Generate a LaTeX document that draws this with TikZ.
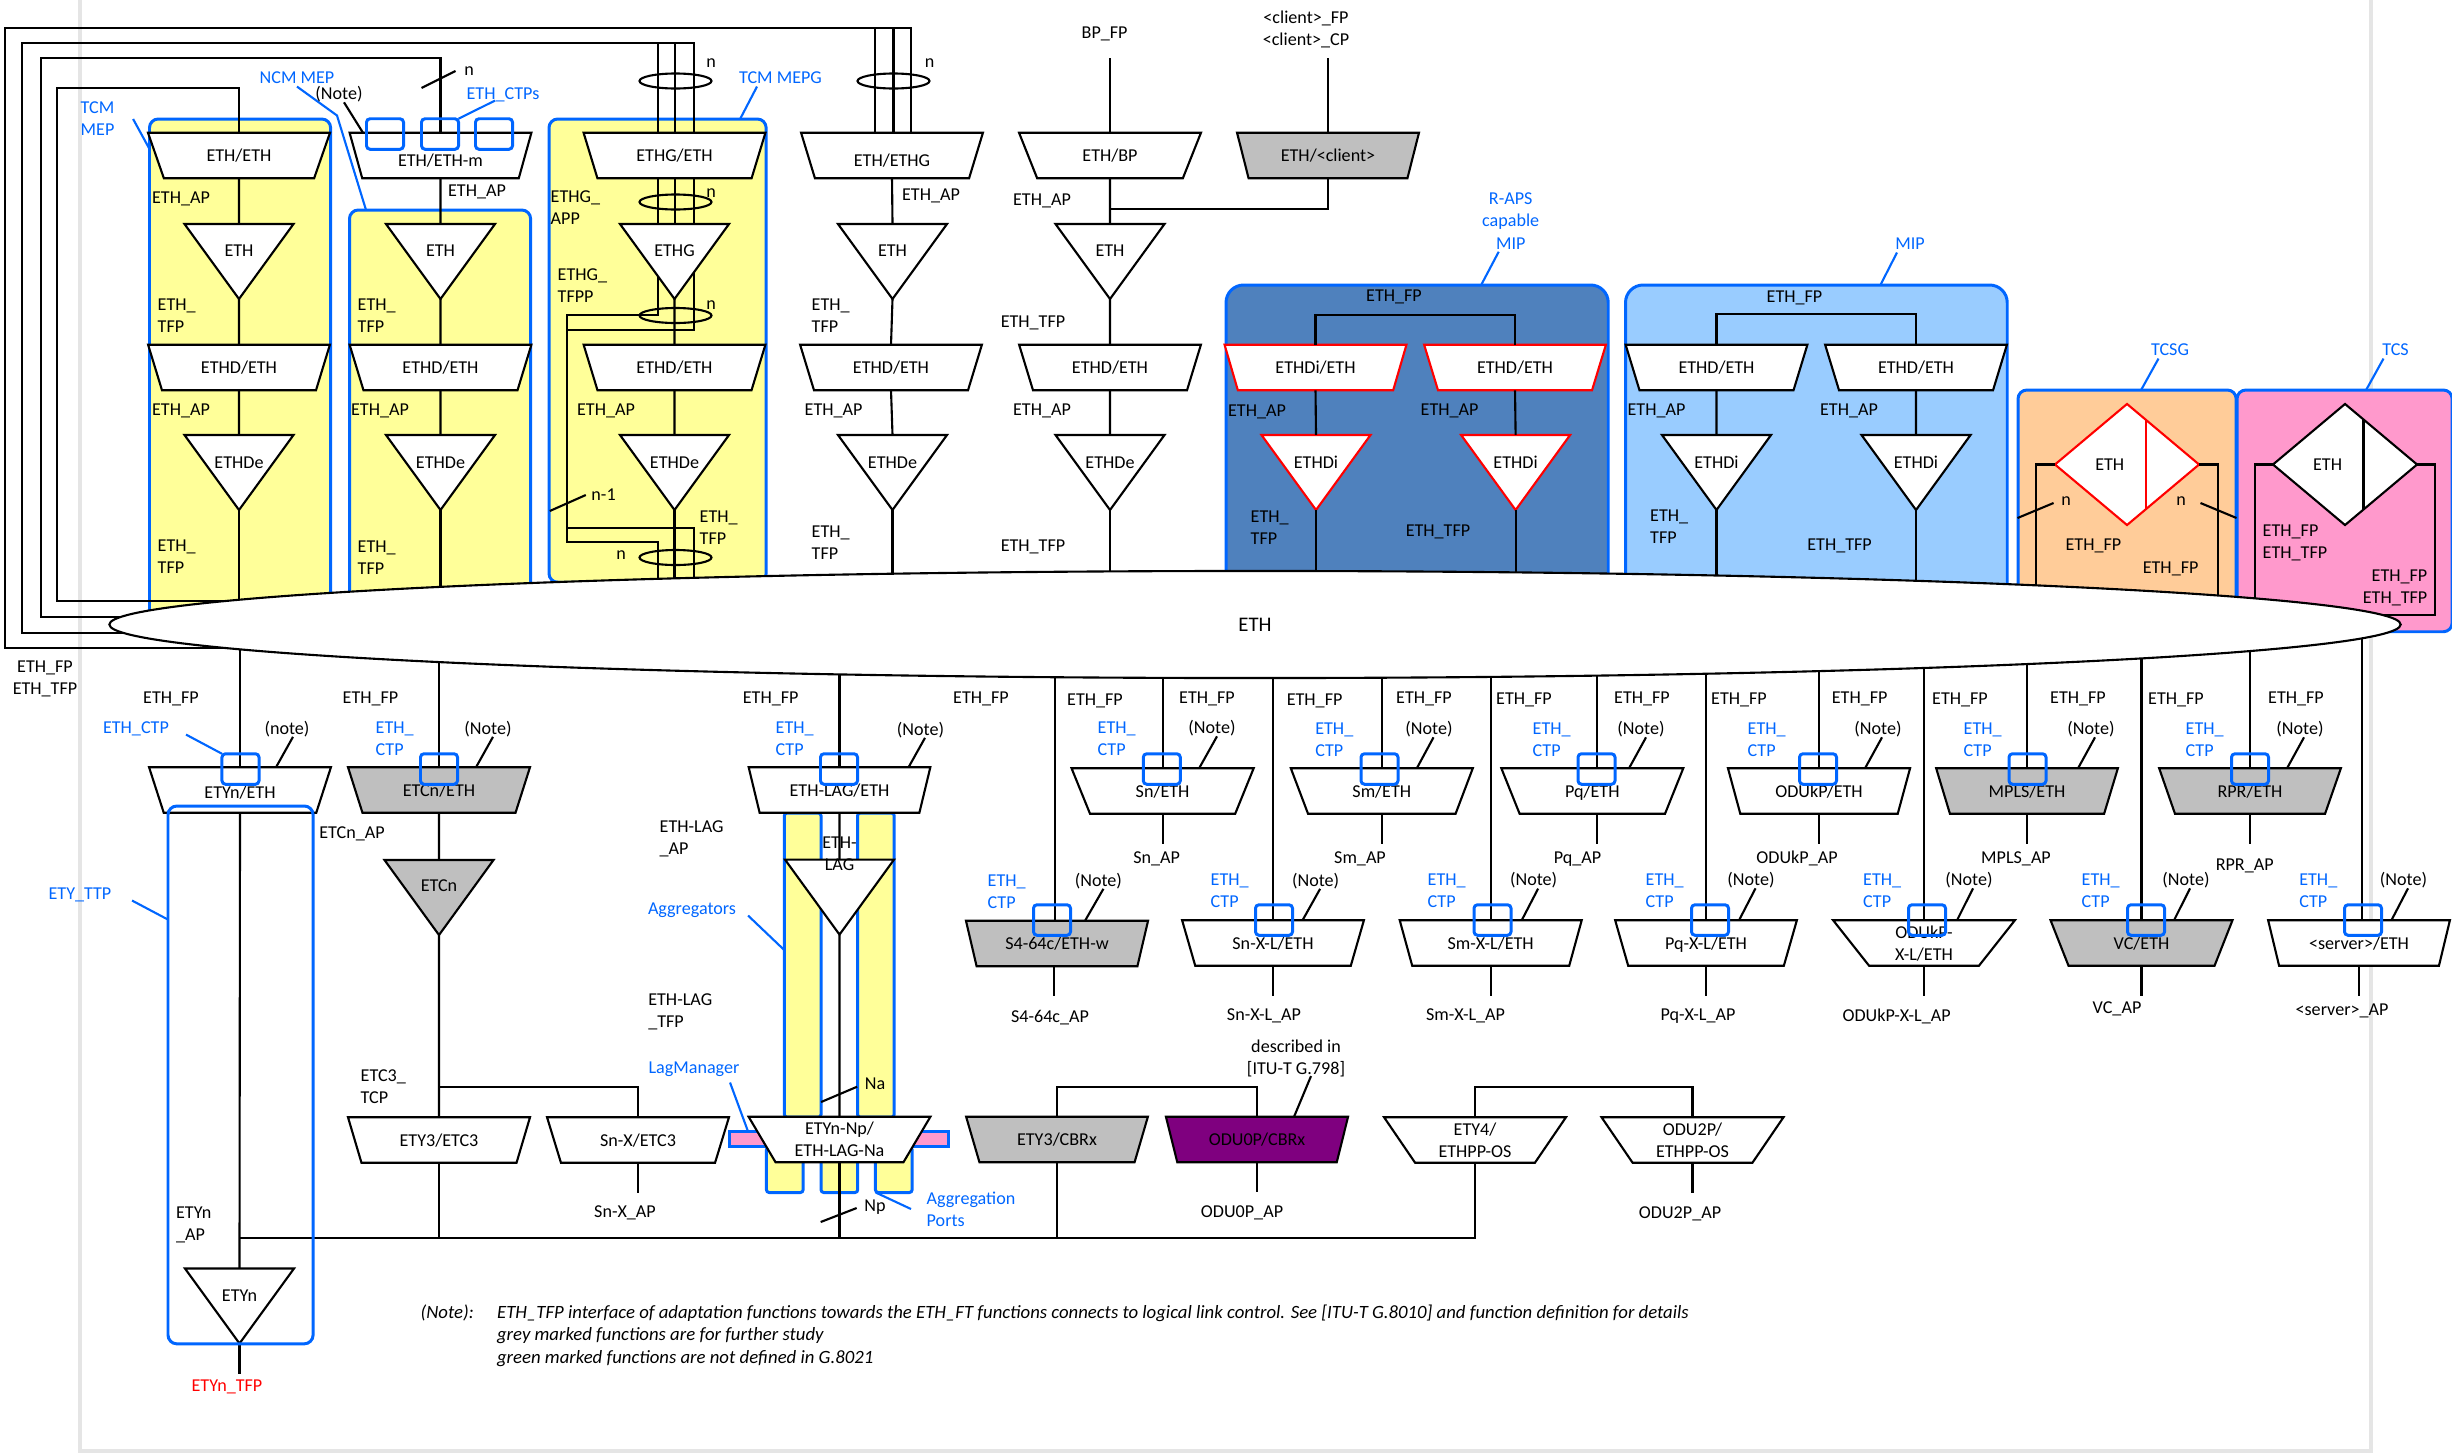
\documentclass[tikz,border=0pt]{standalone}
\usepackage{fontspec}
\setmainfont{Carlito}
\usepackage{xcolor}
\usetikzlibrary{shapes.geometric}
\definecolor{mepblue}{HTML}{0066FF}
\definecolor{mepyellow}{HTML}{FFFF99}
\definecolor{rapsblue}{HTML}{4F81BD}
\definecolor{mipblue}{HTML}{99CCFF}
\definecolor{tcsgorange}{HTML}{FFCC99}
\definecolor{tcspink}{HTML}{FF99CC}
\definecolor{oduviolet}{HTML}{7F007F}
\definecolor{futuregrey}{HTML}{BFBFBF}
\newcommand{\lblfont}{\fontsize{5.15pt}{6.3pt}\selectfont}

\begin{document}
\begin{tikzpicture}[
    x=0.01cm, y=-0.01cm,
    adaptfn/.style={draw=black, fill=white, line width=0.6pt, trapezium, shape border rotate=180, trapezium stretches=true, trapezium left angle=61.4, trapezium right angle=61.4, minimum width=1.82cm, minimum height=0.455cm, inner sep=0pt, outer sep=0pt, font=\lblfont, align=center, text depth=-0.8pt},
    trailfn/.style={draw=black, fill=white, line width=0.6pt, isosceles triangle, shape border rotate=-90, isosceles triangle stretches=true, minimum width=1.09cm, minimum height=0.75cm, inner sep=0pt, outer sep=0pt, anchor=apex},
    tcsfn/.style={draw=black, fill=white, line width=0.6pt, diamond, minimum width=1.44cm, minimum height=1.21cm, inner sep=0pt, outer sep=0pt},
    mepbox/.style={draw=mepblue, fill=mepyellow, line width=0.85pt, rounded corners=2.5pt, inner sep=0pt, outer sep=0pt, anchor=north west},
    mipbox/.style={draw=mepblue, line width=0.85pt, rounded corners=5pt, inner sep=0pt, outer sep=0pt, anchor=north west},
    lagbox/.style={draw=mepblue, fill=mepyellow, line width=0.85pt, rounded corners=0.8pt, inner sep=0pt, outer sep=0pt, anchor=north west},
    ctpbox/.style={draw=mepblue, line width=0.85pt, rounded corners=1pt, minimum width=0.37cm, minimum height=0.305cm, inner sep=0pt, outer sep=0pt},
    ring/.style={draw=black, line width=0.6pt, ellipse, minimum width=0.72cm, minimum height=0.15cm, inner sep=0pt},
    wire/.style={draw=black, line width=0.6pt},
    leader/.style={draw=mepblue, line width=0.6pt},
    lbl/.style={font=\lblfont, inner sep=0pt, align=center, text depth=0pt},
    lblw/.style={font=\lblfont, inner sep=0pt, align=left, anchor=west, text depth=0pt},
    blbl/.style={lbl, text=mepblue},
    blblw/.style={lblw, text=mepblue}
]
    \useasboundingbox (0,0) rectangle (2452,1454);

    % Page edge
    \draw[gray!20, line width=0.9pt] (80,0) -- (80,1451) -- (2371,1451) -- (2371,0);

    \coordinate (layer) at (1255,624.5);
    \coordinate (apbus) at (240,1238);

    % Coloured groups
    \node[mepbox, minimum width=1.81cm, minimum height=5cm] (tcmbox) at (149.5,119) {};
    \node[mepbox, minimum width=1.81cm, minimum height=4cm] (ncmbox) at (349.5,210) {};
    \node[mepbox, minimum width=2.17cm, minimum height=4.63cm] (mepgbox) at (549,119) {};
    \node[mipbox, fill=rapsblue, minimum width=3.82cm, minimum height=3.2cm] (rapsbox) at (1226,285) {};
    \node[mipbox, fill=mipblue, minimum width=3.815cm, minimum height=3.2cm] (mipbox) at (1625.5,285) {};
    \node[mepbox, fill=tcsgorange, minimum width=2.18cm, minimum height=2.3cm] (tcsgbox) at (2018,390) {};
    \node[mepbox, fill=tcspink, minimum width=2.15cm, minimum height=2.416cm] (tcsbox) at (2237,390) {};

    % Aggregators
    \node[lagbox, minimum width=0.367cm, minimum height=3.04cm] (aggl) at (784.3,813) {};
    \node[lagbox, minimum width=0.367cm, minimum height=3.04cm] (aggr) at (857.5,813) {};
    \node[draw=mepblue, fill=tcspink, line width=0.85pt, minimum width=2.186cm, minimum height=0.155cm, inner sep=0pt, outer sep=0pt] (lagmgr) at (839.3,1139) {};
    \node[lagbox, minimum width=0.367cm, minimum height=0.455cm] (portl) at (766.4,1147) {};
    \node[lagbox, minimum width=0.367cm, minimum height=0.455cm] (portm) at (821,1147) {};
    \node[lagbox, minimum width=0.367cm, minimum height=0.455cm] (portr) at (875.4,1147) {};

    % Upper functions
    \node[adaptfn] (tcmad) at (239,155.5) {ETH/ETH};
    \node[adaptfn] (ncmad) at (440.5,155.5) {\raisebox{-1.2pt}[\height][0pt]{ETH/ETH-m}};
    \node[adaptfn] (mepgad) at (674.5,155.5) {ETHG/ETH};
    \node[adaptfn] (grpad) at (892,155.5) {\raisebox{-1.2pt}[\height][0pt]{ETH/ETHG}};
    \node[adaptfn] (bpad) at (1110,155.5) {ETH/BP};
    \node[adaptfn, fill=futuregrey] (clientad) at (1328,155.5) {ETH/<client>};

    \node[trailfn] (tcmtr) at (239,299) {};
    \node[trailfn] (ncmtr) at (440.5,299) {};
    \node[trailfn] (mepgtr) at (674.5,299) {};
    \node[trailfn] (grptr) at (892.5,299) {};
    \node[trailfn] (bptr) at (1110,299) {};

    \node[adaptfn] (tcmdad) at (239,367.5) {ETHD/ETH};
    \node[adaptfn] (ncmdad) at (440.5,367.5) {ETHD/ETH};
    \node[adaptfn] (mepgdad) at (674.5,367.5) {ETHD/ETH};
    \node[adaptfn] (grpdad) at (891,367.5) {ETHD/ETH};
    \node[adaptfn] (bpdad) at (1110,367.5) {ETHD/ETH};
    \node[adaptfn, draw=red] (rapsl) at (1315.5,367.5) {ETHDi/ETH};
    \node[adaptfn, draw=red] (rapsr) at (1515,367.5) {ETHD/ETH};
    \node[adaptfn] (mipl) at (1716.5,367.5) {ETHD/ETH};
    \node[adaptfn] (mipr) at (1916,367.5) {ETHD/ETH};

    \node[trailfn] (tcmdtr) at (239,510) {};
    \node[trailfn] (ncmdtr) at (440.5,510) {};
    \node[trailfn] (mepgdtr) at (674.5,510) {};
    \node[trailfn] (grpdtr) at (892.5,510) {};
    \node[trailfn] (bpdtr) at (1110,510) {};
    \node[trailfn, draw=red] (rapsltr) at (1316,510) {};
    \node[trailfn, draw=red] (rapsrtr) at (1515.6,510) {};
    \node[trailfn] (mipltr) at (1716.5,510) {};
    \node[trailfn] (miprtr) at (1916,510) {};

    \node[tcsfn, draw=red] (tcsgd) at (2127,464.5) {};
    \node[tcsfn] (tcsd) at (2345,464.5) {};
    \draw[red, line width=0.6pt] (2145.6,419.5) -- (2145.6,510);
    \draw[wire] (2363.5,419.5) -- (2363.5,510);

    % Loops
    \coordinate (loopa) at (57,88);
    \coordinate (loopaend) at (300,601);
    \coordinate (loopb) at (41,58);
    \coordinate (loopbend) at (300,617);
    \coordinate (loopc) at (22.4,43);
    \coordinate (loopcend) at (300,633);
    \coordinate (loopd) at (4.6,28);
    \coordinate (loopdend) at (300,648);
    \draw[wire] (tcmad.north) |- (loopa) |- (loopaend);
    \draw[wire] (ncmad.north) |- (loopb) |- (loopbend);
    \draw[wire] ([xshift=0.195cm]mepgad.north) |- (loopc) |- (loopcend);
    \draw[wire] ([xshift=0.19cm]grpad.north) |- (loopd) |- (loopdend);
    \draw[wire] ([xshift=-0.165cm]mepgad.north) -- ++(0,-90);
    \draw[wire] ([xshift=0.005cm]mepgad.north) -- ++(0,-90);
    \draw[wire] ([xshift=-0.17cm]grpad.north) -- ++(0,-105);
    \draw[wire] ([xshift=0.015cm]grpad.north) -- ++(0,-105);

    % Upper connections
    \draw[wire] (tcmad.south) -- (tcmtr.north);
    \draw[wire] (tcmtr.apex) -- (tcmdad.north);
    \draw[wire] (tcmdad.south) -- (tcmdtr.north);
    \draw[wire] (tcmdtr.apex) -- (tcmdtr.apex |- layer);
    \draw[wire] (ncmad.south) -- (ncmtr.north);
    \draw[wire] (ncmtr.apex) -- (ncmdad.north);
    \draw[wire] (ncmdad.south) -- (ncmdtr.north);
    \draw[wire] (ncmdtr.apex) -- (ncmdtr.apex |- layer);
    \draw[wire] ([xshift=-0.165cm]mepgad.south) -- ++(0,46);
    \draw[wire] ([xshift=0.005cm]mepgad.south) -- ++(0,46);
    \draw[wire] ([xshift=0.195cm]mepgad.south) -- ++(0,46);
    \draw[wire] (mepgtr.apex) -- (mepgdad.north);
    \draw[wire] (mepgdad.south) -- (mepgdtr.north);
    \draw[wire] (mepgdtr.apex) -- (mepgdtr.apex |- layer);
    \coordinate (mepgla) at (658,277);
    \coordinate (mepglb) at (567,315);
    \coordinate (mepglc) at (658,542);
    \coordinate (mepgra) at (694,272.5);
    \coordinate (mepgrb) at (567,330);
    \coordinate (mepgrc) at (694,528);
    \draw[wire] (mepgla) |- (mepglb) |- (mepglc) -- (mepglc |- layer);
    \draw[wire] (mepgra) |- (mepgrb) |- (mepgrc) -- (mepgrc |- layer);
    \draw[wire] (grpad.south) -- (grptr.north);
    \draw[wire] (grptr.apex) -- (grpdad.north);
    \draw[wire] (grpdad.south) -- (grpdtr.north);
    \draw[wire] (grpdtr.apex) -- (grpdtr.apex |- layer);
    \draw[wire] (bpad.north) -- ++(0,-75);
    \draw[wire] (clientad.north) -- ++(0,-75);
    \draw[wire] (bpad.south) -- (bptr.north);
    \draw[wire] (clientad.south) |- ([yshift=-0.306cm]bpad.south);
    \draw[wire] (bptr.apex) -- (bpdad.north);
    \draw[wire] (bpdad.south) -- (bpdtr.north);
    \draw[wire] (bpdtr.apex) -- (bpdtr.apex |- layer);
    \draw[wire] (rapsl.north) |- ([yshift=0.295cm]rapsr.north) -- (rapsr.north);
    \draw[wire] (rapsl.south) -- (rapsltr.north);
    \draw[wire] (rapsr.south) -- (rapsrtr.north);
    \draw[wire] (rapsltr.apex) -- (rapsltr.apex |- layer);
    \draw[wire] (rapsrtr.apex) -- (rapsrtr.apex |- layer);
    \draw[wire] (mipl.north) |- ([yshift=0.305cm]mipr.north) -- (mipr.north);
    \draw[wire] (mipl.south) -- (mipltr.north);
    \draw[wire] (mipr.south) -- (miprtr.north);
    \draw[wire] (mipltr.apex) -- (mipltr.apex |- layer);
    \draw[wire] (miprtr.apex) -- (miprtr.apex |- layer);
    \draw[wire] (tcsgd.west) -- ++(-19.4,0) -- ++(0,160);
    \draw[wire] (tcsgd.east) -- ++(19,0) -- ++(0,160);
    \draw[wire] (tcsd.west) -- ++(-18,0) -- ++(0,140);
    \coordinate (tcsend) at (2380,615);
    \draw[wire] (tcsd.east) -- ++(18,0) |- (tcsend);

    % Rings
    \node[ring] (ringa) at (675.5,81) {};
    \node[ring] (ringb) at (675.5,202) {};
    \node[ring] (ringc) at (675.5,315.5) {};
    \node[ring] (ringd) at (675.5,557.5) {};
    \node[ring] (ringe) at (893.5,81) {};

    % Lower functions, first row
    \node[adaptfn] (etyad) at (240,790) {\raisebox{-0.6pt}[\height][0pt]{ETYn/ETH}};
    \node[adaptfn, fill=futuregrey] (etcad) at (439,790) {ETCn/ETH};
    \node[adaptfn] (lagad) at (839.5,790) {ETH-LAG/ETH};
    \node[adaptfn] (snad) at (1162.6,791) {Sn/ETH};
    \node[adaptfn] (smad) at (1381.8,791) {Sm/ETH};
    \node[adaptfn] (pqad) at (1592.3,791) {Pq/ETH};
    \node[adaptfn] (odukad) at (1819,791) {ODUkP/ETH};
    \node[adaptfn, fill=futuregrey] (mplsad) at (2027,791) {MPLS/ETH};
    \node[adaptfn, fill=futuregrey] (rprad) at (2250,791) {RPR/ETH};

    % Lower functions, second row
    \node[adaptfn, fill=futuregrey] (s4ad) at (1057,943.5) {S4-64c/ETH-w};
    \node[adaptfn] (snxlad) at (1273,943) {Sn-X-L/ETH};
    \node[adaptfn] (smxlad) at (1490.7,943) {Sm-X-L/ETH};
    \node[adaptfn] (pqxlad) at (1706,943) {Pq-X-L/ETH};
    \node[adaptfn] (odukxlad) at (1924,943) {ODUkP-\\X-L/ETH};
    \node[adaptfn, fill=futuregrey] (vcad) at (2141.5,943) {VC/ETH};
    \node[adaptfn] (serverad) at (2359,943) {<server>/ETH};

    \node[trailfn, fill=futuregrey] (etctr) at (439,935) {};
    \node[trailfn] (lagtr) at (839.5,934.6) {};
    \node[trailfn] (etytr) at (239.5,1343.5) {};

    % Lower functions, third row
    \node[adaptfn] (etc3ad) at (439,1140) {ETY3/ETC3};
    \node[adaptfn] (snxad) at (638,1140) {Sn-X/ETC3};
    \node[adaptfn] (npad) at (839.5,1139.5) {ETYn-Np/\\ETH-LAG-Na};
    \node[adaptfn, fill=futuregrey] (cbrad) at (1057,1139.5) {ETY3/CBRx};
    \node[adaptfn, fill=oduviolet] (oduad) at (1257,1139.5) {ODU0P/CBRx};
    \node[adaptfn] (ety4ad) at (1475,1140) {ETY4/\\ETHPP-OS};
    \node[adaptfn] (odu2ad) at (1692.5,1140) {ODU2P/\\ETHPP-OS};

    % Lower connections
    \draw[wire] (etyad.north) -- (etyad.north |- layer);
    \draw[wire] (etyad.south) -- (etytr.north);
    \draw[wire] (etytr.apex) -- ++(0,30.5);
    \draw[wire] (etcad.north) -- (etcad.north |- layer);
    \draw[wire] (etcad.south) -- (etctr.north);
    \draw[wire] (etctr.apex) -- (etc3ad.north);
    \draw[wire] (snxad.north) |- ([yshift=0.304cm]etc3ad.north);
    \draw[wire] (etc3ad.south) -- (etc3ad.south |- apbus);
    \draw[wire] (snxad.south) -- ++(0,30);
    \draw[wire] (lagad.north) -- (lagad.north |- layer);
    \draw[wire] (lagad.south) -- (lagtr.north);
    \draw[wire] (lagtr.apex) -- (npad.north);
    \draw[wire] (npad.south) -- (npad.south |- apbus);
    \draw[wire] (cbrad.north) -- ++(0,-29.5) -| (oduad.north);
    \draw[wire] (cbrad.south) -- (cbrad.south |- apbus);
    \draw[wire] (oduad.south) -- ++(0,30);
    \draw[wire] (ety4ad.north) -- ++(0,-30) -| (odu2ad.north);
    \draw[wire] (odu2ad.south) -- ++(0,30);
    \draw[wire] (apbus) -| (ety4ad.south);
    \draw[wire] (snad.north) -- (snad.north |- layer);
    \draw[wire] (snad.south) -- ++(0,30);
    \draw[wire] (smad.north) -- (smad.north |- layer);
    \draw[wire] (smad.south) -- ++(0,30);
    \draw[wire] ([xshift=0.044cm]pqad.north) -- ([xshift=0.044cm]pqad.north |- layer);
    \draw[wire] ([xshift=0.044cm]pqad.south) -- ++(0,30);
    \draw[wire] (odukad.north) -- (odukad.north |- layer);
    \draw[wire] (odukad.south) -- ++(0,30);
    \draw[wire] (mplsad.north) -- (mplsad.north |- layer);
    \draw[wire] (mplsad.south) -- ++(0,30);
    \draw[wire] (rprad.north) -- (rprad.north |- layer);
    \draw[wire] (rprad.south) -- ++(0,30);
    \draw[wire] ([xshift=-0.02cm]s4ad.north) -- ([xshift=-0.02cm]s4ad.north |- layer);
    \draw[wire] ([xshift=-0.03cm]s4ad.south) -- ++(0,30);
    \draw[wire] (snxlad.north) -- (snxlad.north |- layer);
    \draw[wire] (snxlad.south) -- ++(0,30);
    \draw[wire] (smxlad.north) -- (smxlad.north |- layer);
    \draw[wire] (smxlad.south) -- ++(0,30);
    \draw[wire] (pqxlad.north) -- (pqxlad.north |- layer);
    \draw[wire] (pqxlad.south) -- ++(0,30);
    \draw[wire] (odukxlad.north) -- (odukxlad.north |- layer);
    \draw[wire] (odukxlad.south) -- ++(0,30);
    \draw[wire] (vcad.north) -- (vcad.north |- layer);
    \draw[wire] (vcad.south) -- ++(0,30);
    \draw[wire] ([xshift=0.03cm]serverad.north) -- ([xshift=0.03cm]serverad.north |- layer);
    \draw[wire] (serverad.south) -- ++(0,30);

    % Server layer
    \node[draw=black, fill=white, line width=0.6pt, ellipse, minimum width=22.9cm, minimum height=1.07cm, inner sep=0pt, font=\fontsize{5.9pt}{7pt}\selectfont] (ethplane) at (layer) {ETH};

    % Names of the trail functions
    \node[lbl] (tcmtrtxt) at ([yshift=0.48cm]tcmtr.apex) {ETH};
    \node[lbl] (ncmtrtxt) at ([yshift=0.48cm]ncmtr.apex) {ETH};
    \node[lbl] (mepgtrtxt) at ([yshift=0.48cm]mepgtr.apex) {ETHG};
    \node[lbl] (grptrtxt) at ([yshift=0.48cm]grptr.apex) {ETH};
    \node[lbl] (bptrtxt) at ([yshift=0.48cm]bptr.apex) {ETH};
    \node[lbl] (tcmdtrtxt) at ([yshift=0.47cm]tcmdtr.apex) {ETHDe};
    \node[lbl] (ncmdtrtxt) at ([yshift=0.47cm]ncmdtr.apex) {ETHDe};
    \node[lbl] (mepgdtrtxt) at ([yshift=0.47cm]mepgdtr.apex) {ETHDe};
    \node[lbl] (grpdtrtxt) at ([yshift=0.47cm]grpdtr.apex) {ETHDe};
    \node[lbl] (bpdtrtxt) at ([yshift=0.47cm]bpdtr.apex) {ETHDe};
    \node[lbl] (rapsltrtxt) at ([yshift=0.48cm]rapsltr.apex) {ETHDi};
    \node[lbl] (rapsrtrtxt) at ([yshift=0.48cm]rapsrtr.apex) {ETHDi};
    \node[lbl] (mipltrtxt) at ([yshift=0.48cm]mipltr.apex) {ETHDi};
    \node[lbl] (miprtrtxt) at ([yshift=0.48cm]miprtr.apex) {ETHDi};
    \node[lbl] (etctrtxt) at ([yshift=0.49cm]etctr.apex) {ETCn};
    \node[lbl] (lagtrtxt) at ([yshift=0.81cm]lagtr.apex) {ETH-\\LAG};
    \node[lbl] (etytrtxt) at ([yshift=0.475cm]etytr.apex) {ETYn};

    % Connection points
    \node[ctpbox] (ctpa) at (385,134) {};
    \node[ctpbox] (ctpb) at (440,134) {};
    \node[ctpbox] (ctpc) at (494,134) {};
    \node[ctpbox] (ctpety) at (240.5,769) {};
    \node[ctpbox] (ctpetc) at (439,769) {};
    \node[ctpbox] (ctplag) at (839,769) {};
    \node[ctpbox] (ctpsn) at (1161.8,769) {};
    \node[ctpbox] (ctpsm) at (1379.5,769) {};
    \node[ctpbox] (ctppq) at (1596.5,769) {};
    \node[ctpbox] (ctpoduk) at (1818,769) {};
    \node[ctpbox] (ctpmpls) at (2027.5,769) {};
    \node[ctpbox] (ctprpr) at (2250,769) {};
    \node[ctpbox] (ctps4) at (1052,920) {};
    \node[ctpbox] (ctpsnxl) at (1274,920) {};
    \node[ctpbox] (ctpsmxl) at (1492.5,920) {};
    \node[ctpbox] (ctppqxl) at (1710,920) {};
    \node[ctpbox] (ctpodukxl) at (1927,920) {};
    \node[ctpbox] (ctpvc) at (2146,920) {};
    \node[ctpbox] (ctpserver) at (2363,920) {};
    \node[draw=mepblue, line width=0.85pt, rounded corners=2.5pt, minimum width=1.45cm, minimum height=5.375cm, inner sep=0pt, outer sep=0pt, anchor=north west] (ttpbox) at (168,806) {};

    % Group names
    \node[blblw] (tcmtxt) at (80,119) {TCM\\MEP};
    \node[blbl] (ncmtxt) at (297,78) {NCM MEP};
    \node[blbl] (mepgtxt) at (780.5,78) {TCM MEPG};
    \node[blbl] (ctpstxt) at (503,94) {ETH\_CTPs};
    \node[blbl] (rapstxt) at (1510.7,221) {R-APS\\capable\\MIP};
    \node[blbl] (miptxt) at (1910,244) {MIP};
    \node[blbl] (tcsgtxt) at (2170,350) {TCSG};
    \node[blbl] (tcstxt) at (2395.5,350) {TCS};
    \node[blbl] (ctpetytxt) at (136,728) {ETH\_CTP};
    \node[blbl] (ttptxt) at (80,894) {ETY\_TTP};
    \node[blbl] (aggtxt) at (692,909) {Aggregators};
    \node[blbl] (lagmgrtxt) at (694,1068) {LagManager};
    \node[blblw] (porttxt) at (926,1209) {Aggregation\\Ports};

    \coordinate (ncmbend) at (337,115.5);
    \draw[leader] ([xshift=0.18cm]tcmtxt.east) -- ([yshift=-0.3cm]tcmbox.north west);
    \draw[leader] ([yshift=-0.02cm]ncmtxt.south) -- (ncmbend) -- ([xshift=0.165cm]ncmbox.north west);
    \draw[leader] ([xshift=-0.235cm,yshift=-0.02cm]mepgtxt.south) -- ([xshift=-0.26cm]mepgbox.north east);
    \draw[leader] ([xshift=-0.08cm]ctpstxt.south) -- (ctpb.north east);
    \draw[leader] ([xshift=-0.12cm,yshift=-0.02cm]rapstxt.south) -- ([xshift=0.64cm]rapsbox.north);
    \draw[leader] ([xshift=-0.13cm,yshift=-0.02cm]miptxt.south) -- ([xshift=0.64cm]mipbox.north);
    \draw[leader] ([xshift=-0.115cm,yshift=-0.02cm]tcsgtxt.south) -- ([xshift=0.14cm]tcsgbox.north);
    \draw[leader] ([xshift=-0.12cm,yshift=-0.02cm]tcstxt.south) -- ([xshift=0.215cm]tcsbox.north);
    \draw[leader] ([xshift=0.5cm]ctpetytxt.south) -- (ctpety.north west);
    \draw[leader] ([xshift=0.52cm]ttptxt.south) -- ([yshift=-1.135cm]ttpbox.north west);
    \draw[leader] ([xshift=0.56cm]aggtxt.south) -- ([yshift=-1.37cm]aggl.north west);
    \draw[leader] ([xshift=0.36cm,yshift=-0.08cm]lagmgrtxt.south) -- ([xshift=0.18cm]lagmgr.north west);
    \draw[leader] ([xshift=-0.18cm]portr.south) -- ([xshift=-0.15cm]porttxt.west);

    % Labels of the upper part
    \node[lbl] (nnote) at (339,93) {(Note)};
    \node[lbl] (nm) at (469,71) {n};
    \draw[wire] ([xshift=0.05cm,yshift=-0.02cm]nnote.south) -- ([xshift=-0.775cm]ncmad.north);
    \draw[wire] ([xshift=-0.42cm,yshift=-0.17cm]nm.west) -- ([xshift=-0.08cm]nm.west);
    \node[lbl] (ringan) at (711,63) {n};
    \node[lbl] (ringbn) at (711,193) {n};
    \node[lbl] (ringcn) at (711,305) {n};
    \node[lbl] (ringdn) at (621,555) {n};
    \node[lbl] (ringen) at (929.5,63) {n};
    \node[lbl] (nminus) at (603.6,495) {n-1};
    \draw[wire] ([xshift=-0.05cm]nminus.west) -- ([xshift=-0.41cm,yshift=-0.16cm]nminus.west);
    \node[lbl] (apa) at (181,198) {ETH\_AP};
    \node[lbl] (apb) at (477,191) {ETH\_AP};
    \node[lblw] (apg) at (550,208) {ETHG\_\\APP};
    \node[lbl] (apd) at (931,195) {ETH\_AP};
    \node[lbl] (ape) at (1042,200) {ETH\_AP};
    \node[lbl] (bpfp) at (1104.6,32.6) {BP\_FP};
    \node[lbl] (clientfp) at (1306,28) {<client>\_FP\\<client>\_CP};
    \node[lblw] (tfpa) at (157,316) {ETH\_\\TFP};
    \node[lblw] (tfpb) at (357,316) {ETH\_\\TFP};
    \node[lblw] (tfpg) at (557,286) {ETHG\_\\TFPP};
    \node[lblw] (tfpd) at (811,316) {ETH\_\\TFP};
    \node[lbl] (tfpe) at (1033,322) {ETH\_TFP};
    \node[lbl] (apf) at (181,410) {ETH\_AP};
    \node[lbl] (aph) at (380,410) {ETH\_AP};
    \node[lbl] (api) at (606,410) {ETH\_AP};
    \node[lbl] (apj) at (833.6,410) {ETH\_AP};
    \node[lbl] (apk) at (1042,410) {ETH\_AP};
    \node[lblw] (tfpf) at (157,557) {ETH\_\\TFP};
    \node[lblw] (tfph) at (357,558) {ETH\_\\TFP};
    \node[lblw] (tfpi) at (699,527.5) {ETH\_\\TFP};
    \node[lblw] (tfpj) at (811,543) {ETH\_\\TFP};
    \node[lbl] (tfpk) at (1033,546) {ETH\_TFP};

    % Labels of MIP and TCS
    \node[lbl] (rapsfp) at (1394,296) {ETH\_FP};
    \node[lbl] (rapsapl) at (1257,411) {ETH\_AP};
    \node[lbl] (rapsapr) at (1449.6,410) {ETH\_AP};
    \node[lblw] (rapstfpl) at (1250,528) {ETH\_\\TFP};
    \node[lbl] (rapstfpr) at (1438,531) {ETH\_TFP};
    \node[lbl] (mipfp) at (1794.5,297) {ETH\_FP};
    \node[lbl] (mipapl) at (1656.5,409.5) {ETH\_AP};
    \node[lbl] (mipapr) at (1849,409.5) {ETH\_AP};
    \node[lblw] (miptfpl) at (1649.5,527) {ETH\_\\TFP};
    \node[lbl] (miptfpr) at (1839.6,545) {ETH\_TFP};
    \node[lbl] (tcsgeth) at (2109.7,465) {ETH};
    \node[lbl] (tcsgnl) at (2066,501) {n};
    \node[lbl] (tcsgnr) at (2181,501) {n};
    \draw[wire] ([xshift=-0.07cm,yshift=-0.02cm]tcsgnl.west) -- ([xshift=-0.43cm,yshift=-0.17cm]tcsgnl.west);
    \draw[wire] ([xshift=0.14cm,yshift=-0.02cm]tcsgnr.east) -- ([xshift=0.5cm,yshift=-0.17cm]tcsgnr.east);
    \node[lbl] (tcsgfpl) at (2093.4,545) {ETH\_FP};
    \node[lbl] (tcsgfpr) at (2170.6,568) {ETH\_FP};
    \node[lbl] (tcseth) at (2327.6,465) {ETH};
    \node[lblw] (tcsfpl) at (2262,542) {ETH\_FP\\ETH\_TFP};
    \node[lbl, align=right, anchor=east] (tcsfpr) at (2428,587) {ETH\_FP\\ETH\_TFP};

    % Labels at the lower left
    \node[lbl] (planefp) at (45,678) {ETH\_FP\\ETH\_TFP};
    \node[lbl] (etyfp) at (171,698) {ETH\_FP};
    \node[lbl] (etynote) at (287,727.5) {(note)};
    \node[lbl] (etcap) at (352,833) {ETCn\_AP};
    \node[lblw] (etyap) at (175.4,1224) {ETYn\\\_AP};
    \node[lbl, text=red] (etytfp) at (227,1386) {ETYn\_TFP};
    \node[lbl] (etcfp) at (370.5,698) {ETH\_FP};
    \node[blblw] (etcctp) at (375,739) {ETH\_\\CTP};
    \node[lbl] (etcnote) at (488,727.5) {(Note)};
    \node[lblw] (etc3tcp) at (360,1087) {ETC3\_\\TCP};
    \node[lbl] (snxap) at (625,1212) {Sn-X\_AP};
    \draw[wire] ([xshift=0.06cm,yshift=-0.02cm]etynote.south) -- ([xshift=0.36cm]etyad.north);
    \draw[wire] ([xshift=0.05cm,yshift=-0.02cm]etcnote.south) -- ([xshift=0.37cm]etcad.north);

    % LAG
    \node[lbl] (lagfp) at (770.7,698) {ETH\_FP};
    \node[lbl] (lagfpb) at (981,698) {ETH\_FP};
    \node[blblw] (lagctp) at (775,739) {ETH\_\\CTP};
    \node[lbl] (lagnote) at (920.5,728.5) {(Note)};
    \node[lblw] (lagap) at (659,837.5) {ETH-LAG\\\_AP};
    \node[lblw] (lagtfp) at (647.6,1011) {ETH-LAG\\\_TFP};
    \node[lbl] (na) at (875,1084) {Na};
    \node[lbl] (np) at (875,1205.5) {Np};
    \draw[wire] ([xshift=0.045cm,yshift=-0.02cm]lagnote.south) -- ([xshift=0.69cm]lagad.north);
    \draw[wire] ([xshift=-0.07cm,yshift=-0.027cm]na.west) -- ([xshift=-0.43cm,yshift=-0.18cm]na.west);
    \draw[wire] ([xshift=-0.07cm,yshift=-0.025cm]np.west) -- ([xshift=-0.43cm,yshift=-0.165cm]np.west);

    % Labels of the first lower row
    \node[lbl] (snfpa) at (1095,699.6) {ETH\_FP};
    \node[lbl] (snfpb) at (1207,698) {ETH\_FP};
    \node[lbl] (snfpc) at (1314.6,699.6) {ETH\_FP};
    \node[lbl] (snfpd) at (1424,698) {ETH\_FP};
    \node[lbl] (snfpe) at (1524,699) {ETH\_FP};
    \node[lbl] (snfpf) at (1642,698) {ETH\_FP};
    \node[lbl] (snfpg) at (1739,699) {ETH\_FP};
    \node[lbl] (snfph) at (1859.7,698) {ETH\_FP};
    \node[lbl] (snfpi) at (1960,699) {ETH\_FP};
    \node[lbl] (snfpj) at (2078,698) {ETH\_FP};
    \node[lbl] (snfpk) at (2176,699) {ETH\_FP};
    \node[lbl] (snfpl) at (2296,698) {ETH\_FP};

    \node[blblw] (snctp) at (1097,739) {ETH\_\\CTP};
    \node[blblw] (smctp) at (1314.6,739.5) {ETH\_\\CTP};
    \node[blblw] (pqctp) at (1532,739.5) {ETH\_\\CTP};
    \node[blblw] (odukctp) at (1747,739.5) {ETH\_\\CTP};
    \node[blblw] (mplsctp) at (1963,739.5) {ETH\_\\CTP};
    \node[blblw] (rprctp) at (2185,739.5) {ETH\_\\CTP};
    \node[lbl] (snnote) at (1212,727) {(Note)};
    \node[lbl] (smnote) at (1429,728) {(Note)};
    \node[lbl] (pqnote) at (1641,728) {(Note)};
    \node[lbl] (oduknote) at (1878,728) {(Note)};
    \node[lbl] (mplsnote) at (2091,728) {(Note)};
    \node[lbl] (rprnote) at (2300,728) {(Note)};
    \draw[wire] ([xshift=0.05cm,yshift=-0.02cm]snnote.south) -- ([xshift=0.365cm]snad.north);
    \draw[wire] ([xshift=0.045cm,yshift=-0.02cm]smnote.south) -- ([xshift=0.35cm]smad.north);
    \draw[wire] ([xshift=0.05cm,yshift=-0.02cm]pqnote.south) -- ([xshift=0.367cm]pqad.north);
    \draw[wire] ([xshift=0.04cm,yshift=-0.02cm]oduknote.south) -- ([xshift=0.46cm]odukad.north);
    \draw[wire] ([xshift=0.04cm,yshift=-0.02cm]mplsnote.south) -- ([xshift=0.51cm]mplsad.north);
    \draw[wire] ([xshift=0.04cm,yshift=-0.02cm]rprnote.south) -- ([xshift=0.37cm]rprad.north);
    \node[lbl] (snap) at (1156.6,857.5) {Sn\_AP};
    \node[lbl] (smap) at (1360,857.5) {Sm\_AP};
    \node[lbl] (pqap) at (1577.5,857.5) {Pq\_AP};
    \node[lbl] (odukap) at (1797,857.5) {ODUkP\_AP};
    \node[lbl] (mplsap) at (2016,857.5) {MPLS\_AP};
    \node[lbl] (rprap) at (2244.7,865) {RPR\_AP};

    % Labels of the second lower row
    \node[blblw] (s4ctp) at (987,891.5) {ETH\_\\CTP};
    \node[blblw] (snxlctp) at (1210,891) {ETH\_\\CTP};
    \node[blblw] (smxlctp) at (1427,891) {ETH\_\\CTP};
    \node[blblw] (pqxlctp) at (1645,891) {ETH\_\\CTP};
    \node[blblw] (odukxlctp) at (1862.5,891) {ETH\_\\CTP};
    \node[blblw] (vcctp) at (2081,891) {ETH\_\\CTP};
    \node[blblw] (serverctp) at (2298.6,891) {ETH\_\\CTP};
    \node[lbl] (s4note) at (1098.4,879.5) {(Note)};
    \node[lbl] (snxlnote) at (1315.6,879.5) {(Note)};
    \node[lbl] (smxlnote) at (1533.6,879.3) {(Note)};
    \node[lbl] (pqxlnote) at (1751,879) {(Note)};
    \node[lbl] (odukxlnote) at (1969,879) {(Note)};
    \node[lbl] (vcnote) at (2186,879) {(Note)};
    \node[lbl] (servernote) at (2403.5,879) {(Note)};
    \draw[wire] ([xshift=0.05cm,yshift=-0.02cm]s4note.south) -- ([xshift=0.28cm]s4ad.north);
    \draw[wire] ([xshift=0.045cm,yshift=-0.02cm]snxlnote.south) -- ([xshift=0.295cm]snxlad.north);
    \draw[wire] ([xshift=0.045cm,yshift=-0.02cm]smxlnote.south) -- ([xshift=0.31cm]smxlad.north);
    \draw[wire] ([xshift=0.045cm,yshift=-0.02cm]pqxlnote.south) -- ([xshift=0.33cm]pqxlad.north);
    \draw[wire] ([xshift=0.04cm,yshift=-0.02cm]odukxlnote.south) -- ([xshift=0.33cm]odukxlad.north);
    \draw[wire] ([xshift=0.04cm,yshift=-0.02cm]vcnote.south) -- ([xshift=0.325cm]vcad.north);
    \draw[wire] ([xshift=0.045cm,yshift=-0.02cm]servernote.south) -- ([xshift=0.324cm]serverad.north);
    \node[lbl] (s4ap) at (1050,1016) {S4-64c\_AP};
    \node[lbl] (snxlap) at (1264,1015) {Sn-X-L\_AP};
    \node[lbl] (smxlap) at (1465.5,1015) {Sm-X-L\_AP};
    \node[lbl] (pqxlap) at (1698,1015) {Pq-X-L\_AP};
    \node[lbl] (odukxlap) at (1896.6,1015) {ODUkP-X-L\_AP};
    \node[lbl] (vcap) at (2117,1008) {VC\_AP};
    \node[lbl] (serverap) at (2342,1009.4) {<server>\_AP};

    % Labels of the lowest row
    \node[lbl] (odutxt) at (1296,1057) {described in\\{[ITU-T G.798]}};
    \draw[wire] ([xshift=0.15cm,yshift=-0.01cm]odutxt.south) -- ([xshift=0.37cm]oduad.north);
    \node[lbl] (oduap) at (1242,1212) {ODU0P\_AP};
    \node[lbl] (odu2ap) at (1680,1213) {ODU2P\_AP};

    % Note
    \node[lblw, font=\fontsize{5.33pt}{6.4pt}\selectfont\itshape] (notehead) at (420,1311.6) {(Note):};
    \node[lblw, font=\fontsize{5.33pt}{6.4pt}\selectfont\itshape] (notetxt) at (496.4,1334) {ETH\_TFP interface of adaptation functions towards the ETH\_FT functions connects to logical link control. See [ITU-T G.8010] and function definition for details\\grey marked functions are for further study\\green marked functions are not defined in G.8021};
\end{tikzpicture}
\end{document}
